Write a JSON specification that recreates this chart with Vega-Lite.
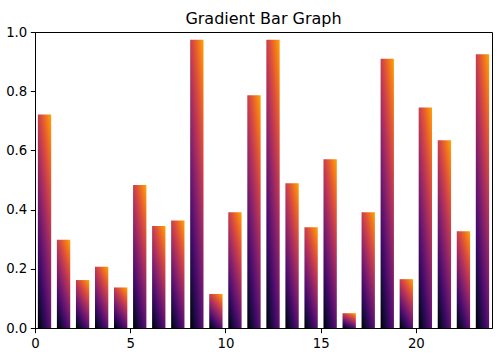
{
  "$schema": "https://vega.github.io/schema/vega-lite/v6.json",
  "width": 457,
  "height": 296,
  "autosize": {"type": "none"},
  "padding": {"left": 35, "top": 32, "right": 8, "bottom": 32},
  "title": {
    "text": "Gradient Bar Graph",
    "fontSize": 16,
    "fontWeight": "normal",
    "font": "DejaVu Sans",
    "color": "#000000",
    "anchor": "middle",
    "frame": "group",
    "baseline": "alphabetic",
    "offset": 8,
    "dy": 23
  },
  "data": {
    "values": [
      {"left": 0.15, "right": 0.85, "value": 0.721},
      {"left": 1.15, "right": 1.85, "value": 0.298},
      {"left": 2.15, "right": 2.85, "value": 0.162},
      {"left": 3.15, "right": 3.85, "value": 0.207},
      {"left": 4.15, "right": 4.85, "value": 0.137},
      {"left": 5.15, "right": 5.85, "value": 0.483},
      {"left": 6.15, "right": 6.85, "value": 0.345},
      {"left": 7.15, "right": 7.85, "value": 0.363},
      {"left": 8.15, "right": 8.85, "value": 0.974},
      {"left": 9.15, "right": 9.85, "value": 0.115},
      {"left": 10.15, "right": 10.85, "value": 0.391},
      {"left": 11.15, "right": 11.85, "value": 0.786},
      {"left": 12.15, "right": 12.85, "value": 0.974},
      {"left": 13.15, "right": 13.85, "value": 0.489},
      {"left": 14.15, "right": 14.85, "value": 0.340},
      {"left": 15.15, "right": 15.85, "value": 0.570},
      {"left": 16.15, "right": 16.85, "value": 0.050},
      {"left": 17.15, "right": 17.85, "value": 0.391},
      {"left": 18.15, "right": 18.85, "value": 0.910},
      {"left": 19.15, "right": 19.85, "value": 0.165},
      {"left": 20.15, "right": 20.85, "value": 0.745},
      {"left": 21.15, "right": 21.85, "value": 0.634},
      {"left": 22.15, "right": 22.85, "value": 0.327},
      {"left": 23.15, "right": 23.85, "value": 0.925}
    ]
  },
  "mark": {
    "type": "bar",
    "fill": {
      "gradient": "linear",
      "x1": 0,
      "y1": 1,
      "x2": 0.612,
      "y2": -0.198,
      "stops": [
        {"offset": 0, "color": "#000004"},
        {"offset": 0.125, "color": "#160b39"},
        {"offset": 0.25, "color": "#420a68"},
        {"offset": 0.375, "color": "#6a176e"},
        {"offset": 0.5, "color": "#932667"},
        {"offset": 0.625, "color": "#bc3754"},
        {"offset": 0.75, "color": "#dd513a"},
        {"offset": 0.875, "color": "#f37819"},
        {"offset": 1, "color": "#fca50a"}
      ]
    },
    "stroke": null,
    "clip": true
  },
  "encoding": {
    "x": {
      "field": "left",
      "type": "quantitative",
      "scale": {"domain": [0, 24], "nice": false, "zero": false},
      "axis": {"values": [0, 5, 10, 15, 20], "title": null, "format": "d", "labelFlush": false}
    },
    "x2": {"field": "right"},
    "y": {
      "field": "value",
      "type": "quantitative",
      "scale": {"domain": [0, 1], "nice": false},
      "axis": {"values": [0, 0.2, 0.4, 0.6, 0.8, 1.0], "title": null, "format": ".1f", "labelFlush": false}
    },
    "y2": {"datum": 0}
  },
  "config": {
    "view": {"stroke": "#000000", "strokeWidth": 1},
    "axis": {
      "grid": false,
      "domainColor": "#000000",
      "domainWidth": 1,
      "tickColor": "#000000",
      "tickWidth": 1,
      "tickSize": 4.7,
      "labelPadding": 3.5,
      "labelFont": "DejaVu Sans",
      "labelFontSize": 13.3,
      "labelColor": "#000000"
    }
  }
}
